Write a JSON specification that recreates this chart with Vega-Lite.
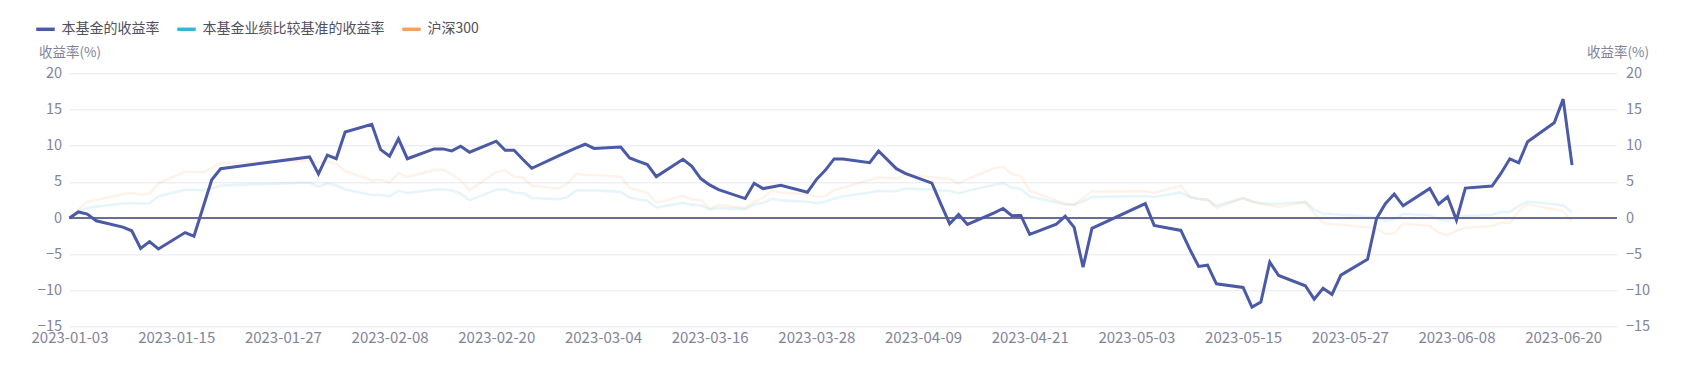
{
  "$schema": "https://vega.github.io/schema/vega-lite/v6.json",
  "width": 1547,
  "height": 253.4,
  "autosize": {"type": "none"},
  "padding": {"left": 69.5, "top": 73.3, "right": 68.5, "bottom": 42.3},
  "background": "#ffffff",
  "config": {
    "font": "Noto Sans CJK SC",
    "view": {"stroke": null},
    "axis": {"labelFont": "Noto Sans CJK SC", "titleFont": "Noto Sans CJK SC"},
    "legend": {"labelFont": "Noto Sans CJK SC"}
  },
  "data": {
    "values": [
      {"date": "2023-01-03", "fund": 0, "benchmark": 0, "hs300": 0},
      {"date": "2023-01-04", "fund": 0.85, "benchmark": 1.0, "hs300": 1.2},
      {"date": "2023-01-05", "fund": 0.55, "benchmark": 1.4, "hs300": 2.25},
      {"date": "2023-01-06", "fund": -0.37, "benchmark": 1.6, "hs300": 2.5},
      {"date": "2023-01-09", "fund": -1.24, "benchmark": 2.0, "hs300": 3.3},
      {"date": "2023-01-10", "fund": -1.75, "benchmark": 2.05, "hs300": 3.45},
      {"date": "2023-01-11", "fund": -4.2, "benchmark": 2.0, "hs300": 3.25},
      {"date": "2023-01-12", "fund": -3.25, "benchmark": 2.05, "hs300": 3.4},
      {"date": "2023-01-13", "fund": -4.27, "benchmark": 3.0, "hs300": 4.8},
      {"date": "2023-01-16", "fund": -2.0, "benchmark": 3.9, "hs300": 6.4},
      {"date": "2023-01-17", "fund": -2.5, "benchmark": 3.9, "hs300": 6.4},
      {"date": "2023-01-18", "fund": 1.4, "benchmark": 3.8, "hs300": 6.3},
      {"date": "2023-01-19", "fund": 5.3, "benchmark": 4.1, "hs300": 6.9},
      {"date": "2023-01-20", "fund": 6.82, "benchmark": 4.5, "hs300": 7.6},
      {"date": "2023-01-30", "fund": 8.45, "benchmark": 4.9, "hs300": 7.9},
      {"date": "2023-01-31", "fund": 6.1, "benchmark": 4.3, "hs300": 7.6},
      {"date": "2023-02-01", "fund": 8.7, "benchmark": 4.8, "hs300": 7.8},
      {"date": "2023-02-02", "fund": 8.2, "benchmark": 4.5, "hs300": 7.5},
      {"date": "2023-02-03", "fund": 11.9, "benchmark": 3.95, "hs300": 6.5},
      {"date": "2023-02-06", "fund": 12.95, "benchmark": 3.2, "hs300": 5.2},
      {"date": "2023-02-07", "fund": 9.45, "benchmark": 3.2, "hs300": 5.3},
      {"date": "2023-02-08", "fund": 8.55, "benchmark": 3.0, "hs300": 4.9},
      {"date": "2023-02-09", "fund": 10.95, "benchmark": 3.8, "hs300": 6.2},
      {"date": "2023-02-10", "fund": 8.2, "benchmark": 3.46, "hs300": 5.7},
      {"date": "2023-02-13", "fund": 9.56, "benchmark": 3.93, "hs300": 6.6},
      {"date": "2023-02-14", "fund": 9.56, "benchmark": 4.0, "hs300": 6.7},
      {"date": "2023-02-15", "fund": 9.28, "benchmark": 3.83, "hs300": 6.05},
      {"date": "2023-02-16", "fund": 9.93, "benchmark": 3.37, "hs300": 5.2},
      {"date": "2023-02-17", "fund": 9.1, "benchmark": 2.45, "hs300": 3.83},
      {"date": "2023-02-20", "fund": 10.62, "benchmark": 3.93, "hs300": 6.37},
      {"date": "2023-02-21", "fund": 9.38, "benchmark": 4.0, "hs300": 6.6},
      {"date": "2023-02-22", "fund": 9.38, "benchmark": 3.5, "hs300": 5.7},
      {"date": "2023-02-23", "fund": 8.1, "benchmark": 3.46, "hs300": 5.6},
      {"date": "2023-02-24", "fund": 6.88, "benchmark": 2.77, "hs300": 4.5},
      {"date": "2023-02-27", "fund": 8.6, "benchmark": 2.59, "hs300": 4.06},
      {"date": "2023-02-28", "fund": 9.15, "benchmark": 2.9, "hs300": 4.76},
      {"date": "2023-03-01", "fund": 9.7, "benchmark": 3.83, "hs300": 6.14},
      {"date": "2023-03-02", "fund": 10.2, "benchmark": 3.8, "hs300": 6.0},
      {"date": "2023-03-03", "fund": 9.63, "benchmark": 3.85, "hs300": 5.96},
      {"date": "2023-03-06", "fund": 9.82, "benchmark": 3.62, "hs300": 5.7},
      {"date": "2023-03-07", "fund": 8.3, "benchmark": 2.84, "hs300": 4.17},
      {"date": "2023-03-08", "fund": 7.84, "benchmark": 2.57, "hs300": 3.85},
      {"date": "2023-03-09", "fund": 7.39, "benchmark": 2.39, "hs300": 3.5},
      {"date": "2023-03-10", "fund": 5.73, "benchmark": 1.47, "hs300": 2.1},
      {"date": "2023-03-13", "fund": 8.12, "benchmark": 2.1, "hs300": 3.07},
      {"date": "2023-03-14", "fund": 7.16, "benchmark": 1.83, "hs300": 2.57},
      {"date": "2023-03-15", "fund": 5.46, "benchmark": 1.79, "hs300": 2.48},
      {"date": "2023-03-16", "fund": 4.59, "benchmark": 1.19, "hs300": 1.33},
      {"date": "2023-03-17", "fund": 3.94, "benchmark": 1.38, "hs300": 1.8},
      {"date": "2023-03-20", "fund": 2.7, "benchmark": 1.24, "hs300": 1.42},
      {"date": "2023-03-21", "fund": 4.82, "benchmark": 1.88, "hs300": 2.25},
      {"date": "2023-03-22", "fund": 4.08, "benchmark": 2.1, "hs300": 2.8},
      {"date": "2023-03-23", "fund": 4.3, "benchmark": 2.66, "hs300": 3.76},
      {"date": "2023-03-24", "fund": 4.54, "benchmark": 2.48, "hs300": 3.53},
      {"date": "2023-03-27", "fund": 3.58, "benchmark": 2.25, "hs300": 3.3},
      {"date": "2023-03-28", "fund": 5.32, "benchmark": 2.1, "hs300": 2.94},
      {"date": "2023-03-29", "fund": 6.6, "benchmark": 2.25, "hs300": 3.03},
      {"date": "2023-03-30", "fund": 8.17, "benchmark": 2.7, "hs300": 3.85},
      {"date": "2023-03-31", "fund": 8.15, "benchmark": 3.0, "hs300": 4.2},
      {"date": "2023-04-03", "fund": 7.66, "benchmark": 3.53, "hs300": 5.28},
      {"date": "2023-04-04", "fund": 9.27, "benchmark": 3.76, "hs300": 5.6},
      {"date": "2023-04-06", "fund": 6.83, "benchmark": 3.72, "hs300": 5.46},
      {"date": "2023-04-07", "fund": 6.19, "benchmark": 4.08, "hs300": 5.96},
      {"date": "2023-04-10", "fund": 4.82, "benchmark": 3.9, "hs300": 5.64},
      {"date": "2023-04-11", "fund": 1.97, "benchmark": 3.8, "hs300": 5.5},
      {"date": "2023-04-12", "fund": -0.78, "benchmark": 3.76, "hs300": 5.46},
      {"date": "2023-04-13", "fund": 0.5, "benchmark": 3.44, "hs300": 4.72},
      {"date": "2023-04-14", "fund": -0.87, "benchmark": 3.76, "hs300": 5.37},
      {"date": "2023-04-17", "fund": 0.73, "benchmark": 4.59, "hs300": 6.88},
      {"date": "2023-04-18", "fund": 1.33, "benchmark": 4.82, "hs300": 7.1},
      {"date": "2023-04-19", "fund": 0.32, "benchmark": 4.2, "hs300": 6.06},
      {"date": "2023-04-20", "fund": 0.37, "benchmark": 4.04, "hs300": 5.83},
      {"date": "2023-04-21", "fund": -2.25, "benchmark": 2.98, "hs300": 3.76},
      {"date": "2023-04-24", "fund": -0.83, "benchmark": 2.16, "hs300": 2.43},
      {"date": "2023-04-25", "fund": 0.28, "benchmark": 1.88, "hs300": 1.97},
      {"date": "2023-04-26", "fund": -1.28, "benchmark": 1.83, "hs300": 1.88},
      {"date": "2023-04-27", "fund": -6.79, "benchmark": 2.3, "hs300": 2.75},
      {"date": "2023-04-28", "fund": -1.42, "benchmark": 2.9, "hs300": 3.67},
      {"date": "2023-05-04", "fund": 2.0, "benchmark": 3.05, "hs300": 3.7},
      {"date": "2023-05-05", "fund": -1.01, "benchmark": 2.9, "hs300": 3.46},
      {"date": "2023-05-08", "fund": -1.7, "benchmark": 3.55, "hs300": 4.47},
      {"date": "2023-05-09", "fund": -4.29, "benchmark": 2.9, "hs300": 3.0},
      {"date": "2023-05-10", "fund": -6.68, "benchmark": 2.63, "hs300": 2.63},
      {"date": "2023-05-11", "fund": -6.5, "benchmark": 2.53, "hs300": 2.53},
      {"date": "2023-05-12", "fund": -9.08, "benchmark": 1.7, "hs300": 1.38},
      {"date": "2023-05-15", "fund": -9.58, "benchmark": 2.76, "hs300": 2.76},
      {"date": "2023-05-16", "fund": -12.3, "benchmark": 2.3, "hs300": 2.3},
      {"date": "2023-05-17", "fund": -11.6, "benchmark": 2.07, "hs300": 1.94},
      {"date": "2023-05-18", "fund": -6.08, "benchmark": 1.98, "hs300": 1.75},
      {"date": "2023-05-19", "fund": -7.93, "benchmark": 1.94, "hs300": 1.52},
      {"date": "2023-05-22", "fund": -9.35, "benchmark": 2.26, "hs300": 2.17},
      {"date": "2023-05-23", "fund": -11.2, "benchmark": 1.15, "hs300": 0.69},
      {"date": "2023-05-24", "fund": -9.68, "benchmark": 0.6, "hs300": -0.69},
      {"date": "2023-05-25", "fund": -10.55, "benchmark": 0.55, "hs300": -0.83},
      {"date": "2023-05-26", "fund": -7.88, "benchmark": 0.46, "hs300": -0.92},
      {"date": "2023-05-29", "fund": -5.7, "benchmark": 0.2, "hs300": -1.25},
      {"date": "2023-05-30", "fund": -0.1, "benchmark": 0.1, "hs300": -1.43},
      {"date": "2023-05-31", "fund": 2.0, "benchmark": -0.37, "hs300": -2.2},
      {"date": "2023-06-01", "fund": 3.33, "benchmark": -0.18, "hs300": -2.1},
      {"date": "2023-06-02", "fund": 1.7, "benchmark": 0.55, "hs300": -0.74},
      {"date": "2023-06-05", "fund": 4.1, "benchmark": 0.41, "hs300": -1.1},
      {"date": "2023-06-06", "fund": 1.93, "benchmark": -0.18, "hs300": -2.0},
      {"date": "2023-06-07", "fund": 2.95, "benchmark": -0.37, "hs300": -2.4},
      {"date": "2023-06-08", "fund": -0.28, "benchmark": 0.18, "hs300": -1.75},
      {"date": "2023-06-09", "fund": 4.14, "benchmark": 0.28, "hs300": -1.33},
      {"date": "2023-06-12", "fund": 4.42, "benchmark": 0.46, "hs300": -1.1},
      {"date": "2023-06-13", "fund": 6.17, "benchmark": 0.83, "hs300": -0.64},
      {"date": "2023-06-14", "fund": 8.19, "benchmark": 0.83, "hs300": -0.64},
      {"date": "2023-06-15", "fund": 7.64, "benchmark": 1.66, "hs300": 0.97},
      {"date": "2023-06-16", "fund": 10.54, "benchmark": 2.3, "hs300": 1.93},
      {"date": "2023-06-19", "fund": 13.16, "benchmark": 1.93, "hs300": 1.2},
      {"date": "2023-06-20", "fund": 16.43, "benchmark": 1.75, "hs300": 0.97},
      {"date": "2023-06-21", "fund": 7.32, "benchmark": 0.83, "hs300": -0.5}
    ]
  },
  "transform": [
    {"fold": ["fund", "benchmark", "hs300"], "as": ["series", "value"]}
  ],
  "encoding": {
    "x": {
      "field": "date",
      "type": "temporal",
      "scale": {"type": "utc", "domain": [{"year": 2023, "month": 1, "date": 3, "utc": true}, {"year": 2023, "month": 6, "date": 26, "utc": true}]},
      "axis": {
        "title": null,
        "format": "%Y-%m-%d",
        "values": [
          {"year": 2023, "month": 1, "date": 3, "utc": true},
          {"year": 2023, "month": 1, "date": 15, "utc": true},
          {"year": 2023, "month": 1, "date": 27, "utc": true},
          {"year": 2023, "month": 2, "date": 8, "utc": true},
          {"year": 2023, "month": 2, "date": 20, "utc": true},
          {"year": 2023, "month": 3, "date": 4, "utc": true},
          {"year": 2023, "month": 3, "date": 16, "utc": true},
          {"year": 2023, "month": 3, "date": 28, "utc": true},
          {"year": 2023, "month": 4, "date": 9, "utc": true},
          {"year": 2023, "month": 4, "date": 21, "utc": true},
          {"year": 2023, "month": 5, "date": 3, "utc": true},
          {"year": 2023, "month": 5, "date": 15, "utc": true},
          {"year": 2023, "month": 5, "date": 27, "utc": true},
          {"year": 2023, "month": 6, "date": 8, "utc": true},
          {"year": 2023, "month": 6, "date": 20, "utc": true}
        ],
        "domain": false,
        "ticks": false,
        "grid": false,
        "labelFontSize": 15,
        "labelColor": "#82849a",
        "labelPadding": 4,
        "labelOverlap": false,
        "labelFlush": false
      }
    },
    "color": {
      "field": "series",
      "type": "nominal",
      "scale": {"domain": ["fund", "benchmark", "hs300"], "range": ["#4b5aa6", "#3ab4d4", "#f5a25c"]},
      "legend": {
        "title": null,
        "orient": "none",
        "legendX": -35,
        "legendY": -55,
        "direction": "horizontal",
        "symbolType": "stroke",
        "symbolSize": 340,
        "symbolStrokeWidth": 3.5,
        "symbolOpacity": 1,
        "labelFontSize": 14,
        "labelColor": "#505060",
        "labelOffset": 5,
        "labelLimit": 400,
        "columnPadding": 10,
        "padding": 0,
        "labelExpr": "datum.value == 'fund' ? '本基金的收益率' : datum.value == 'benchmark' ? '本基金业绩比较基准的收益率' : '沪深300'"
      }
    }
  },
  "layer": [
    {
      "transform": [{"filter": "datum.series != 'fund'"}],
      "mark": {"type": "line", "strokeWidth": 2.5, "opacity": 0.13},
      "encoding": {
        "y": {
          "field": "value",
          "type": "quantitative",
          "scale": {"domain": [-15, 20], "nice": false, "zero": false},
          "axis": {
            "orient": "left",
            "values": [-15, -10, -5, 0, 5, 10, 15, 20],
            "domain": false,
            "ticks": false,
            "grid": true,
            "gridColor": "#e6e8f2",
            "labelFontSize": 14.5,
            "labelColor": "#82849a",
            "labelPadding": 8,
            "title": "收益率(%)",
            "titleAngle": 0,
            "titleAlign": "center",
            "titleBaseline": "middle",
            "titleX": 0,
            "titleY": -21,
            "titleFontSize": 13.5,
            "titleFontWeight": "normal",
            "titleColor": "#82849a"
          }
        }
      }
    },
    {
      "mark": {"type": "rule", "color": "#6b6e96", "strokeWidth": 1},
      "encoding": {
        "x": {"value": 0},
        "x2": {"value": 1547},
        "y": {
          "datum": 0,
          "type": "quantitative",
          "scale": {"domain": [-15, 20], "nice": false, "zero": false},
          "axis": {
            "orient": "right",
            "values": [-15, -10, -5, 0, 5, 10, 15, 20],
            "domain": false,
            "ticks": false,
            "grid": false,
            "labelFontSize": 14.5,
            "labelColor": "#82849a",
            "labelPadding": 9,
            "title": "收益率(%)",
            "titleAngle": 0,
            "titleAlign": "center",
            "titleBaseline": "middle",
            "titleX": 1,
            "titleY": -21,
            "titleFontSize": 13.5,
            "titleFontWeight": "normal",
            "titleColor": "#82849a"
          }
        },
        "color": {"value": "#6b6e96"}
      }
    },
    {
      "transform": [{"filter": "datum.series == 'fund'"}],
      "mark": {"type": "line", "strokeWidth": 3},
      "encoding": {
        "y": {
          "field": "value",
          "type": "quantitative",
          "scale": {"domain": [-15, 20], "nice": false, "zero": false},
          "axis": null
        }
      }
    }
  ],
  "resolve": {"scale": {"y": "independent"}}
}
